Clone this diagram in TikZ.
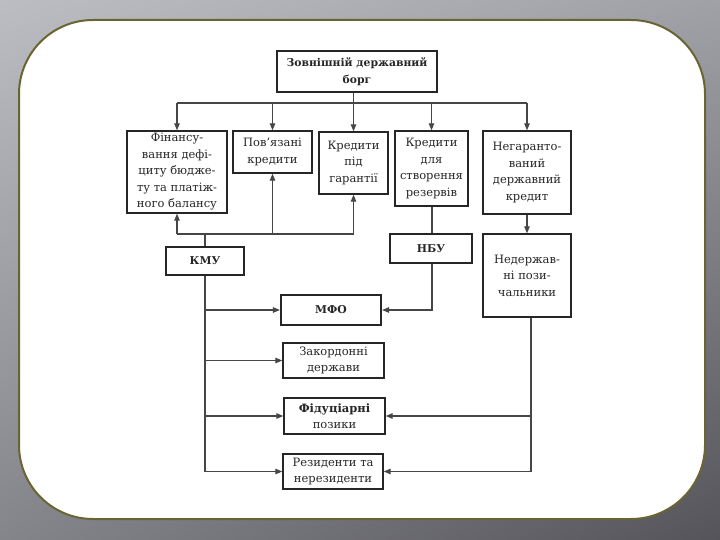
\documentclass[tikz,border=0pt]{standalone}
\usepackage{fontspec}
\setmainfont{DejaVu Serif}
\usetikzlibrary{arrows.meta,shadings}
\definecolor{ink}{HTML}{262626}
\definecolor{wire}{HTML}{464646}
\definecolor{frameol}{HTML}{6B6432}
\definecolor{bgul}{RGB}{188,189,194}
\definecolor{bgur}{RGB}{160,161,166}
\definecolor{bgll}{RGB}{132,133,138}
\definecolor{bglr}{RGB}{84,84,90}
\tikzset{
  bx/.style={draw=ink, line width=1.4pt, fill=white, inner sep=0pt, align=center,
    text=ink, font=\fontsize{11.5}{16.5}\selectfont},
  bbx/.style={bx, font=\fontsize{10.8}{16.5}\selectfont\bfseries},
  wireline/.style={draw=wire, line width=1.1pt},
  arr/.style={wireline, -{Triangle[length=7pt,width=5.5pt]}},
}
\begin{document}
\begin{tikzpicture}[x=1pt,y=-1pt]
\useasboundingbox (0,0) rectangle (720,540);
\shade[upper left=bgul, upper right=bgur, lower left=bgll, lower right=bglr]
  (0,0) rectangle (720,540);
\draw[frameol, line width=2pt, fill=white, rounded corners=74pt] (19,20) rectangle (705,519);

% boxes
\node[bbx, minimum width=160pt, minimum height=41pt] (top) at (357,71.5) {Зовнішній державний\\борг};
\node[bx, minimum width=100pt, minimum height=82pt] (b1) at (177,172) {Фінансу-\\вання дефі-\\циту бюдже-\\ту та платіж-\\ного балансу};
\node[bx, minimum width=79pt, minimum height=42pt] (b2) at (272.5,152) {Пов'язані\\кредити};
\node[bx, minimum width=69pt, minimum height=62pt] (b3) at (353.5,163) {Кредити\\під\\гарантії};
\node[bx, minimum width=73pt, minimum height=75pt] (b4) at (431.5,168.5) {Кредити\\для\\створення\\резервів};
\node[bx, minimum width=88pt, minimum height=83pt] (b5) at (527,172.5) {Негаранто-\\ваний\\державний\\кредит};
\node[bbx, minimum width=78pt, minimum height=28pt] (kmu) at (205,261) {КМУ};
\node[bbx, minimum width=82pt, minimum height=29pt] (nbu) at (431,248.5) {НБУ};
\node[bx, minimum width=88pt, minimum height=83pt] (ndp) at (527,275.5) {Недержав-\\ні пози-\\чальники};
\node[bbx, line width=2.2pt, minimum width=100pt, minimum height=30pt] (mfo) at (331,310) {МФО};
\node[bx, minimum width=101pt, minimum height=35pt] (zd) at (333.5,360.5) {Закордонні\\держави};
\node[bx, minimum width=101pt, minimum height=36pt] (fp) at (334.5,416) {\textbf{Фідуціарні}\\позики};
\node[bx, minimum width=100pt, minimum height=35pt] (rn) at (333,471.5) {Резиденти та\\нерезиденти};

% helper coordinates
\coordinate (busT) at (0,103);
\coordinate (busB) at (0,234);
\coordinate (kx) at (205,0);
\coordinate (rx) at (531,0);
\coordinate (ny) at (432,0);

% top distribution
\draw[arr] (top.south -| b3.north) -- (b3.north);
\draw[wireline] (b1.north |- busT) -- (b5.north |- busT);
\draw[arr] (b1.north |- busT) -- (b1.north);
\draw[arr] (b2.north |- busT) -- (b2.north);
\draw[arr] (b4.north |- busT) -- (b4.north);
\draw[arr] (b5.north |- busT) -- (b5.north);

% KMU bus
\draw[wireline] (b1.south |- busB) -- (b3.south |- busB);
\draw[arr] (b1.south |- busB) -- (b1.south);
\draw[arr] (b2.south |- busB) -- (b2.south);
\draw[arr] (b3.south |- busB) -- (b3.south);
\draw[wireline] (kmu.north) -- (kmu.north |- busB);
\draw[wireline] (kmu.south) -- (kx |- rn.west);
\draw[arr] (kx |- mfo.west) -- (mfo.west);
\draw[arr] (kx |- zd.west) -- (zd.west);
\draw[arr] (kx |- fp.west) -- (fp.west);
\draw[arr] (kx |- rn.west) -- (rn.west);

% NBU
\draw[wireline] (ny |- b4.south) -- (ny |- nbu.north);
\draw[arr] (ny |- nbu.south) -- (ny |- mfo.east) -- (mfo.east);

% non-state borrowers
\draw[arr] (b5.south) -- (ndp.north);
\draw[wireline] (rx |- ndp.south) -- (rx |- rn.east);
\draw[arr] (rx |- fp.east) -- (fp.east);
\draw[arr] (rx |- rn.east) -- (rn.east);
\end{tikzpicture}
\end{document}
